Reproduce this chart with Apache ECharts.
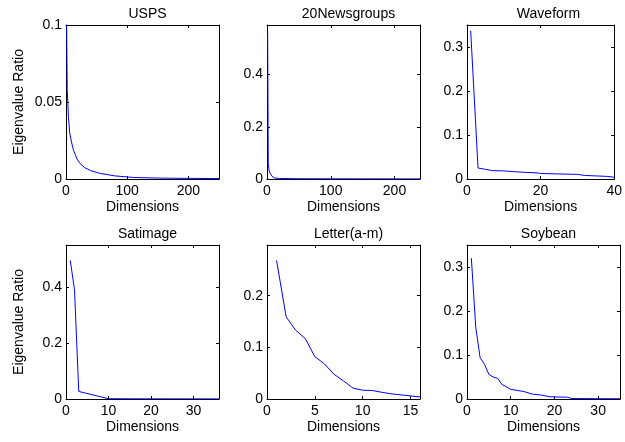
<!DOCTYPE html>
<html>
<head>
<meta charset="utf-8">
<script src="https://cdn.jsdelivr.net/npm/echarts@6/dist/echarts.min.js"></script>
<style>
html,body{margin:0;padding:0;background:#fff;}
#chart{width:625px;height:442px;}
</style>
</head>
<body>
<div id="chart"></div>
<script>
// ---- data ----
const panelTitles = ['USPS', '20Newsgroups', 'Waveform', 'Satimage', 'Letter(a-m)', 'Soybean'];
const xName = 'Dimensions';
const yName = 'Eigenvalue Ratio';

const uspsDims  = [1, 2, 4, 6, 9, 12, 18, 23, 30, 40, 55, 80, 110, 150, 200, 250];
const uspsRatio = [0.1, 0.058, 0.040, 0.030, 0.024, 0.019, 0.013, 0.010, 0.0075, 0.0055, 0.0037, 0.002, 0.001, 0.0006, 0.0004, 0.0003];

const newsDims  = [1, 2, 3, 5, 8, 12, 20, 50, 100, 150, 240];
const newsRatio = [0.56, 0.06, 0.035, 0.022, 0.010, 0.004, 0.002, 0.001, 0.0007, 0.0005, 0.0003];

const waveDims  = [1, 3, 5, 7, 10, 13, 16, 19, 20, 25, 30, 32, 35, 38, 40];
const waveRatio = [0.337, 0.025, 0.022, 0.019, 0.0185, 0.0165, 0.015, 0.014, 0.0125, 0.0115, 0.0105, 0.008, 0.007, 0.006, 0.004];

const satDims  = [1, 2, 3, 10, 20, 36];
const satRatio = [0.495, 0.39, 0.027, 0.001, 0.0005, 0.0003];

const letterDims  = [1, 2, 3, 4, 5, 6, 7, 8, 9, 10, 11, 12, 13, 14, 15, 16];
const letterRatio = [0.268, 0.159, 0.133, 0.117, 0.082, 0.068, 0.048, 0.035, 0.021, 0.017, 0.0165, 0.013, 0.010, 0.008, 0.006, 0.004];

const soyDims  = [1, 2, 3, 4, 5, 6, 7, 8, 9, 10, 13, 15, 17, 19, 23, 24, 35];
const soyRatio = [0.32, 0.163, 0.094, 0.079, 0.056, 0.050, 0.047, 0.033, 0.028, 0.022, 0.017, 0.011, 0.009, 0.005, 0.004, 0.001, 0.0005];

const allDims  = [uspsDims, newsDims, waveDims, satDims, letterDims, soyDims];
const allRatio = [uspsRatio, newsRatio, waveRatio, satRatio, letterRatio, soyRatio];

const xMax = [250, 240, 40, 36, 16, 35];
const xInterval = [100, 100, 20, 10, 5, 10];
const xShowMax = [false, false, true, false, false, false];
const yMax = [0.1, 0.59, 0.35, 0.55, 0.298, 0.35];
const yInterval = [0.05, 0.2, 0.1, 0.2, 0.1, 0.1];
const yShowMax = [true, false, false, false, false, false];

// ---- layout ----
const FONT = 'Liberation Sans, Arial, sans-serif';
const FS = 14;
const colLeft = [66, 267, 467];
const rowTop = [25, 245];
const W = 153, H = 154;

const grid = [], xAxis = [], yAxis = [], series = [], title = [];
for (let i = 0; i < 6; i++) {
  const c = i % 3, r = Math.floor(i / 3);
  grid.push({left: colLeft[c], top: rowTop[r], width: W, height: H, containLabel: false});
  title.push({
    text: panelTitles[i],
    left: colLeft[c] + W / 2,
    top: rowTop[r] - 23,
    textAlign: 'center',
    textStyle: {fontFamily: FONT, fontSize: FS, fontWeight: 'normal', color: '#000'}
  });
  const lineStyle = {color: '#000', width: 1};
  const tick = {show: true, inside: true, length: 3, lineStyle: {color: '#000', width: 1}};
  xAxis.push({
    type: 'value', gridIndex: i, min: 0, max: xMax[i], interval: xInterval[i],
    position: 'bottom',
    axisLine: {show: true, onZero: false, lineStyle},
    axisTick: tick,
    splitLine: {show: false},
    axisLabel: {show: true, margin: 5, color: '#000', fontFamily: FONT, fontSize: FS,
      showMinLabel: true, showMaxLabel: xShowMax[i], hideOverlap: false,
      alignMinLabel: 'center', alignMaxLabel: 'center'},
    name: xName, nameLocation: 'middle', nameGap: 21,
    nameTextStyle: {fontFamily: FONT, fontSize: FS, color: '#000'}
  });
  xAxis.push({
    type: 'value', gridIndex: i, min: 0, max: xMax[i], interval: xInterval[i],
    position: 'top',
    axisLine: {show: true, onZero: false, lineStyle},
    axisTick: tick,
    splitLine: {show: false},
    axisLabel: {show: false}
  });
  yAxis.push({
    type: 'value', gridIndex: i, min: 0, max: yMax[i], interval: yInterval[i],
    position: 'left',
    axisLine: {show: true, onZero: false, lineStyle},
    axisTick: tick,
    splitLine: {show: false},
    axisLabel: {show: true, margin: 4, color: '#000', fontFamily: FONT, fontSize: FS,
      showMinLabel: true, showMaxLabel: yShowMax[i], hideOverlap: false},
    name: (c === 0) ? yName : '',
    nameLocation: 'middle', nameGap: 40, nameRotate: 90,
    nameTextStyle: {fontFamily: FONT, fontSize: FS, color: '#000'}
  });
  yAxis.push({
    type: 'value', gridIndex: i, min: 0, max: yMax[i], interval: yInterval[i],
    position: 'right',
    axisLine: {show: true, onZero: false, lineStyle},
    axisTick: tick,
    splitLine: {show: false},
    axisLabel: {show: false}
  });
  series.push({
    type: 'line',
    xAxisIndex: 2 * i, yAxisIndex: 2 * i,
    data: allDims[i].map((d, k) => [d, allRatio[i][k]]),
    showSymbol: false, symbol: 'none',
    lineStyle: {color: '#0000ff', width: 1},
    itemStyle: {color: '#0000ff'},
    clip: true, animation: false
  });
}

const chart = echarts.init(document.getElementById('chart'), null, {renderer: 'canvas'});
chart.setOption({
  backgroundColor: '#fff',
  animation: false,
  title, grid, xAxis, yAxis, series
});
</script>
</body>
</html>
